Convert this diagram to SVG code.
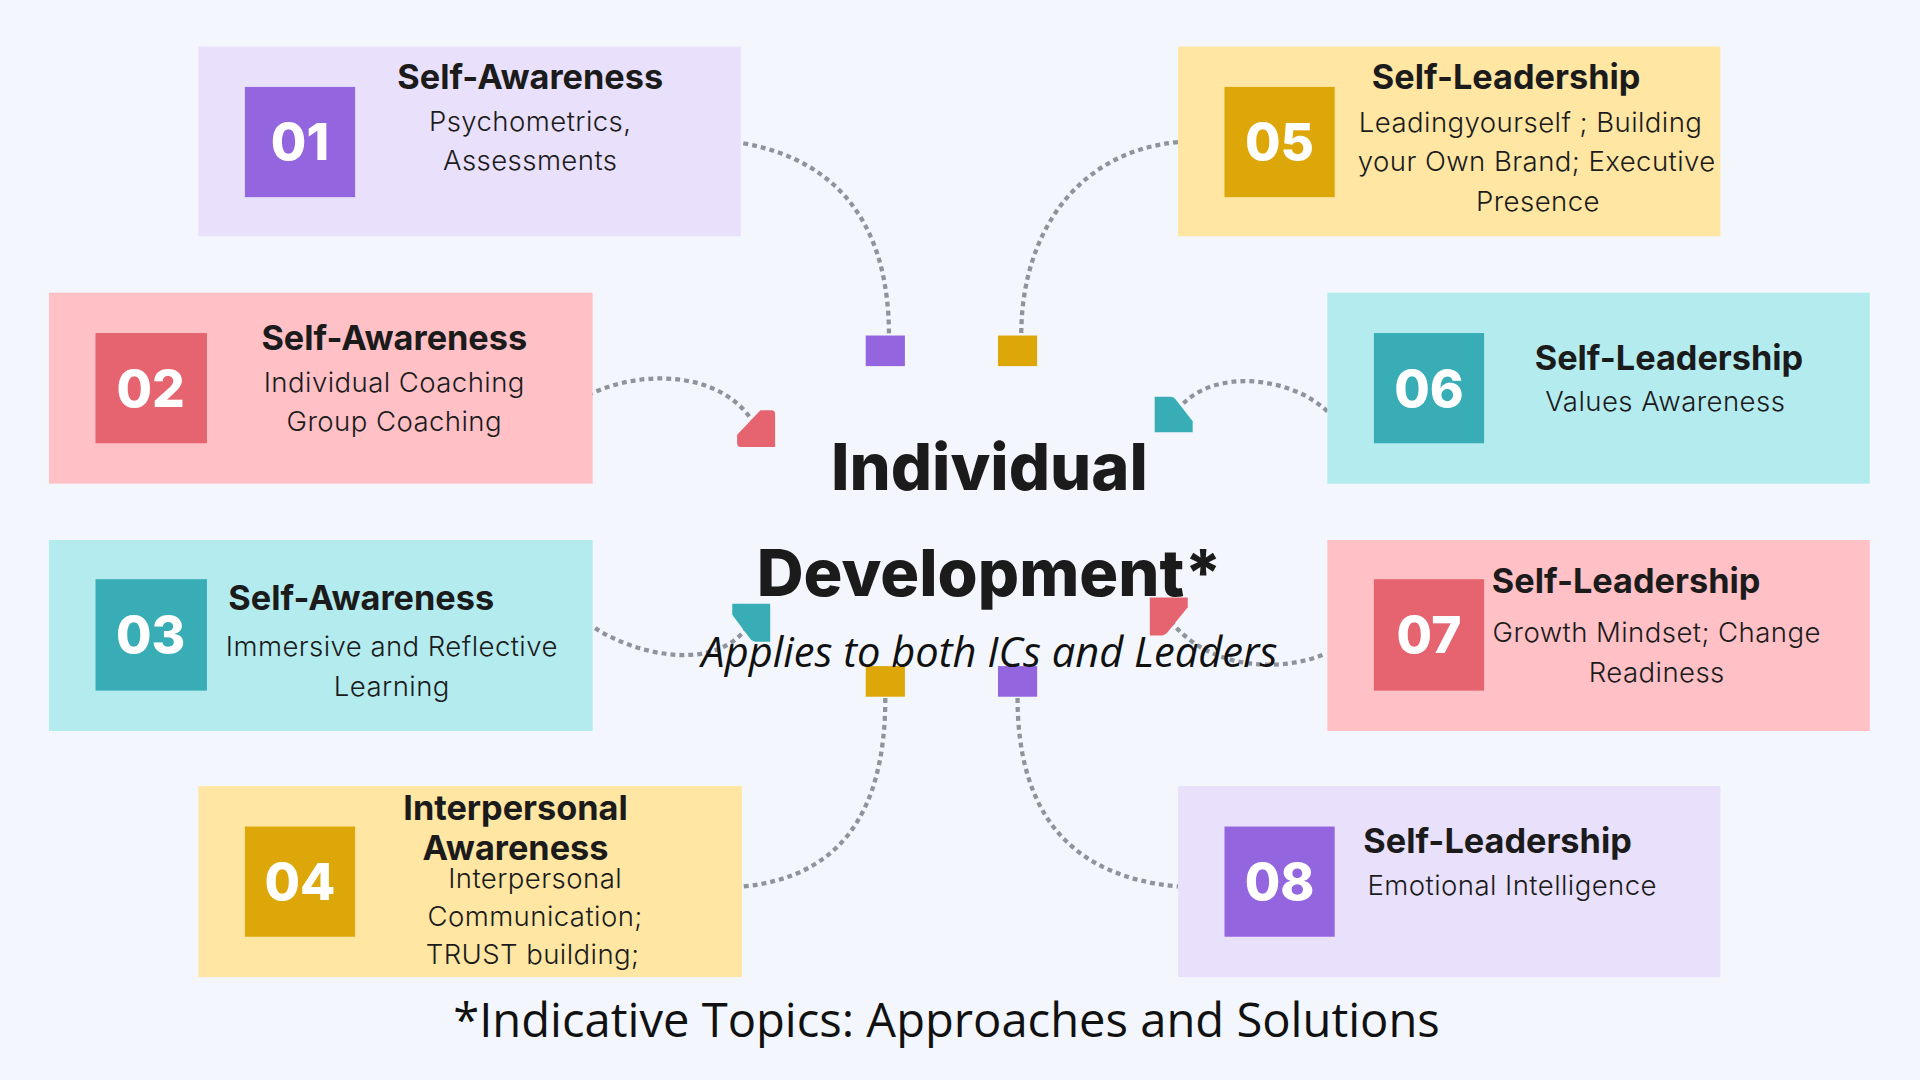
<svg xmlns="http://www.w3.org/2000/svg" width="1920" height="1080" viewBox="0 0 1920 1080">
<style>
.bg{fill:#F3F7FD}
.card-lav{fill:#E9E0FC}.card-pink{fill:#FFC0C6}.card-cyan{fill:#B3EBEE}.card-yel{fill:#FFE6A3}
.c-pur{fill:#9366E0}.c-red{fill:#E5646F}.c-teal{fill:#38ADB6}.c-gold{fill:#DEA709}
.num{font-family:Inter,"DejaVu Sans",sans-serif;font-weight:800;font-size:42px;fill:#FFFFFF;text-anchor:middle}
.ttl{font-family:Inter,"DejaVu Sans",sans-serif;font-weight:700;font-size:28px;fill:#1B1B1B;text-anchor:middle}
.txt{font-family:Inter,"DejaVu Sans",sans-serif;font-weight:300;font-size:22.5px;letter-spacing:0.35px;fill:#1B1B1B;text-anchor:middle}
.big{font-family:Inter,"DejaVu Sans",sans-serif;font-weight:800;font-size:53px;fill:#1B1B1B;text-anchor:middle}
.sub{font-family:"Open Sans","Noto Sans",sans-serif;font-style:italic;font-size:34px;fill:#111111;text-anchor:middle}
.foot{font-family:"Open Sans","Noto Sans",sans-serif;font-size:38.5px;fill:#111111;text-anchor:middle}
.dot{fill:none;stroke:#8F939C;stroke-width:3.5;stroke-dasharray:4 3.3}
</style>
<rect class="bg" x="0" y="0" width="1920" height="1080"/>
<g transform="scale(1.22449)">
<g id="connectors">
<path class="dot" d="M607,117 C690,132 726,190 726,274"/>
<path class="dot" d="M962,116 C880,124 834,190 834,274"/>
<path class="dot" d="M474,326 C515,302 585,300 614,343"/>
<path class="dot" d="M1084,336 C1055,308 992,300 964,332"/>
<path class="dot" d="M486,513 C520,535 585,550 612,510"/>
<path class="dot" d="M1080,535 C1040,550 985,545 955,506"/>
<path class="dot" d="M723,570 C723,665 685,716 607,724"/>
<path class="dot" d="M831,570 C831,665 875,716 962,724"/>
<g id="connector-ends">
<rect class="c-pur" x="707" y="274" width="32" height="25"/>
<rect class="c-gold" x="815" y="274" width="32" height="25"/>
<path class="c-red" d="M621,335 L630,335 Q633,335 633,338 L633,365 L605,365 Q602,365 602,362 L602,355 Z"/>
<path class="c-teal" d="M943,324 L956,324 Q958,324 960,326 L974,344 L974,353 L943,353 Z"/>
<path class="c-red" d="M939,488 L970,488 L970,496 L953,517 Q951,519 949,519 L939,519 Z"/>
<path class="c-teal" d="M598,493 L629,493 L629,524 L617,524 Q615,524 613,522 L598,502 Z"/>
<rect class="c-gold" x="707" y="544" width="32" height="25"/>
<rect class="c-pur" x="815" y="544" width="32" height="25"/>
</g>
</g>
<g id="node-01">
<rect class="card-lav" x="162" y="38" width="443" height="155"/>
<rect class="c-pur" x="200" y="71" width="90" height="90"/>
<text class="num" x="245" y="131">01</text>
<text class="ttl" x="433" y="73">Self-Awareness</text>
<text class="txt" x="433" y="107">Psychometrics,</text>
<text class="txt" x="433" y="139">Assessments</text>
</g>
<g id="node-02">
<rect class="card-pink" x="40" y="239" width="444" height="156"/>
<rect class="c-red" x="78" y="272" width="91" height="90"/>
<text class="num" x="123" y="332">02</text>
<text class="ttl" x="322" y="286">Self-Awareness</text>
<text class="txt" x="322" y="320">Individual Coaching</text>
<text class="txt" x="322" y="352">Group Coaching</text>
</g>
<g id="node-03">
<rect class="card-cyan" x="40" y="441" width="444" height="156"/>
<rect class="c-teal" x="78" y="473" width="91" height="91"/>
<text class="num" x="123" y="533">03</text>
<text class="ttl" x="295" y="498">Self-Awareness</text>
<text class="txt" x="320" y="536">Immersive and Reflective</text>
<text class="txt" x="320" y="568">Learning</text>
</g>
<g id="node-04">
<rect class="card-yel" x="162" y="642" width="444" height="156"/>
<rect class="c-gold" x="200" y="675" width="90" height="90"/>
<text class="num" x="245" y="735">04</text>
<text class="ttl" x="421" y="670">Interpersonal</text>
<text class="ttl" x="421" y="702">Awareness</text>
<text class="txt" x="437" y="725">Interpersonal</text>
<text class="txt" x="437" y="756">Communication;</text>
<text class="txt" x="435" y="787">TRUST building;</text>
</g>
<g id="node-05">
<rect class="card-yel" x="962" y="38" width="443" height="155"/>
<rect class="c-gold" x="1000" y="71" width="90" height="90"/>
<text class="num" x="1045" y="131">05</text>
<text class="ttl" x="1230" y="73">Self-Leadership</text>
<text class="txt" x="1250" y="108">Leadingyourself ; Building</text>
<text class="txt" x="1255" y="140">your Own Brand; Executive</text>
<text class="txt" x="1256" y="172">Presence</text>
</g>
<g id="node-06">
<rect class="card-cyan" x="1084" y="239" width="443" height="156"/>
<rect class="c-teal" x="1122" y="272" width="90" height="90"/>
<text class="num" x="1167" y="332">06</text>
<text class="ttl" x="1363" y="302">Self-Leadership</text>
<text class="txt" x="1360" y="336">Values Awareness</text>
</g>
<g id="node-07">
<rect class="card-pink" x="1084" y="441" width="443" height="156"/>
<rect class="c-red" x="1122" y="473" width="90" height="91"/>
<text class="num" x="1167" y="533">07</text>
<text class="ttl" x="1328" y="484">Self-Leadership</text>
<text class="txt" x="1353" y="524">Growth Mindset; Change</text>
<text class="txt" x="1353" y="557">Readiness</text>
</g>
<g id="node-08">
<rect class="card-lav" x="962" y="642" width="443" height="156"/>
<rect class="c-pur" x="1000" y="675" width="90" height="90"/>
<text class="num" x="1045" y="735">08</text>
<text class="ttl" x="1223" y="697">Self-Leadership</text>
<text class="txt" x="1235" y="731">Emotional Intelligence</text>
</g>
<g id="node-center">
<text class="big" x="808" y="400">Individual</text>
<text class="big" x="808" y="487">Development*</text>
<text class="sub" x="808" y="545">Applies to both ICs and Leaders</text>
</g>
<g id="footnote">
<text class="foot" x="773" y="847">*Indicative Topics: Approaches and Solutions</text>
</g>
</g>
</svg>
